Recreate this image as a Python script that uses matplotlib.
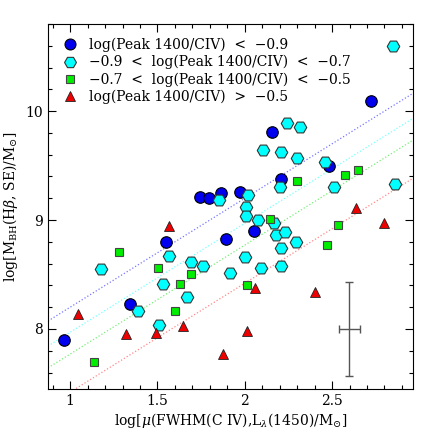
import matplotlib
matplotlib.use("Agg")
import matplotlib.pyplot as plt
import numpy as np

# log(Peak 1400/CIV) < -0.9
blue_x = [0.962, 1.343, 1.547, 1.743, 1.793, 1.863, 1.971, 1.890, 2.053, 2.210, 2.158, 2.482, 2.724]
blue_y = [7.900, 8.232, 8.796, 9.213, 9.199, 9.244, 9.259, 8.823, 8.899, 9.375, 9.805, 9.500, 10.09]

# -0.9 < log(Peak 1400/CIV) < -0.7
cyan_x = [2.848, 2.244, 2.318, 2.105, 2.210, 2.300, 2.461, 2.204, 2.514, 2.863, 2.019,
          1.853, 2.010, 2.006, 2.078, 2.166, 2.181, 2.229, 2.295, 2.210, 2.095, 2.210,
          1.762, 1.914, 2.002, 1.566, 1.691, 1.533, 1.670, 1.387, 1.510, 1.175]
cyan_y = [10.60, 9.890, 9.853, 9.640, 9.625, 9.574, 9.537, 9.305, 9.302, 9.332, 9.229,
          9.186, 9.122, 9.040, 9.000, 8.970, 8.863, 8.893, 8.801, 8.747, 8.558, 8.582,
          8.582, 8.515, 8.664, 8.673, 8.613, 8.412, 8.293, 8.167, 8.039, 8.549]

# -0.7 < log(Peak 1400/CIV) < -0.5
green_x = [1.282, 1.139, 1.501, 1.629, 1.691, 1.600, 2.015, 2.300, 2.143, 2.577, 2.649, 2.535, 2.472]
green_y = [8.710, 7.694, 8.564, 8.414, 8.503, 8.167, 8.408, 9.354, 9.006, 9.412, 9.460, 8.957, 8.771]

# log(Peak 1400/CIV) > -0.5
red_x = [1.047, 1.320, 1.491, 1.644, 1.873, 1.567, 2.015, 2.061, 2.400, 2.640, 2.800]
red_y = [8.140, 7.954, 7.963, 8.024, 7.774, 8.948, 7.978, 8.375, 8.338, 9.113, 8.970]

# dotted relations y = x + c, one per group
line_slope = 1.0
line_icpt = [7.20, 6.97, 6.77, 6.42]

# typical error bar
err_x, err_y = 2.598, 8.0
err_dx, err_dy = 0.061, 0.43

plt.rcParams['font.family'] = ['DejaVu Serif']
plt.rcParams['mathtext.fontset'] = 'dejavuserif'
plt.rcParams['font.size'] = 10

fig = plt.figure(figsize=(4.36, 4.36), dpi=100)
ax = fig.add_axes([0.110, 0.108, 0.837, 0.837])

xlim = (0.873, 2.963)
xx = np.array(xlim)
for c, col in zip(line_icpt, ['#7777ff', '#77ffff', '#77ee77', '#ff8888']):
    ax.plot(xx, line_slope * xx + c, ls=':', lw=0.9, color=col, zorder=1)

ax.plot(blue_x, blue_y, 'o', ms=8.3, mfc='#0000ee', mec='k', mew=0.8, ls='none',
        label='log(Peak 1400/CIV)  <  \u22120.9', zorder=3)
ax.plot(cyan_x, cyan_y, 'H', ms=9.0, mfc='#00ffff', mec='#333333', mew=0.8, ls='none',
        label='\u22120.9  <  log(Peak 1400/CIV)  <  \u22120.7', zorder=3)
ax.plot(green_x, green_y, 's', ms=5.5, mfc='#00ee00', mec='#444444', mew=0.8, ls='none',
        label='\u22120.7  <  log(Peak 1400/CIV)  <  \u22120.5', zorder=3)
ax.plot(red_x, red_y, '^', ms=7.2, mfc='#ee0000', mec='#222222', mew=0.6, ls='none',
        label='log(Peak 1400/CIV)  >  \u22120.5', zorder=3)

ax.errorbar(err_x, err_y, xerr=err_dx, yerr=err_dy, fmt='none', ecolor='#555555',
            elinewidth=1.0, capsize=3, capthick=1.0, zorder=2)

ax.set_xlim(*xlim)
ax.set_ylim(7.45, 10.8)
ax.set_xticks([1, 1.5, 2, 2.5])
ax.set_xticklabels(['1', '1.5', '2', '2.5'])
ax.set_yticks([8, 9, 10])
ax.set_xticks(np.arange(0.9, 2.96, 0.1), minor=True)
ax.set_yticks(np.arange(7.6, 10.8, 0.2), minor=True)
ax.tick_params(which='both', direction='in', top=True, right=True, labelsize=10)
ax.tick_params(which='major', length=6, width=0.8)
ax.tick_params(which='minor', length=3, width=0.8)

ax.set_xlabel(r'log[$\mu$(FWHM(C IV),L$_{\lambda}$(1450)/M$_{\odot}$]', fontsize=10, labelpad=2)
ax.set_ylabel(r'log[M$_{\rm BH}$(H$\beta$, SE)/M$_{\odot}$]', fontsize=10, labelpad=4)

leg = ax.legend(loc='upper left', frameon=False, fontsize=10, handletextpad=0.75,
                labelspacing=0.2, borderaxespad=0.4, handlelength=1.2, borderpad=0.6,
                markerscale=0.95)

fig.savefig('out.png', dpi=100)
